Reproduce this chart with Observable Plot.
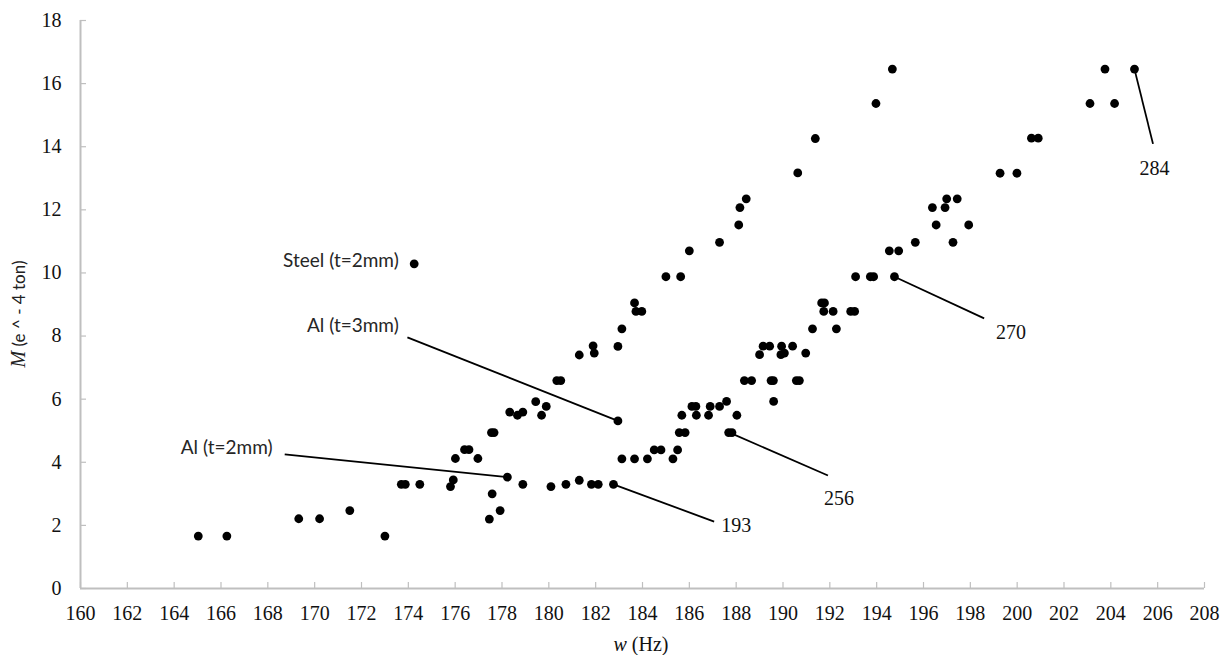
<!DOCTYPE html>
<html>
<head>
<meta charset="utf-8">
<script src="https://cdn.jsdelivr.net/npm/d3@7"></script>
<script src="https://cdn.jsdelivr.net/npm/@observablehq/plot@0.6"></script>
<style>
  html, body { margin: 0; padding: 0; background: #fff; }
  #chart { width: 1222px; height: 655px; }
  svg text.serifT, svg tspan.serifT { font-family: 'Liberation Serif' !important; }
  svg text.sansT, svg tspan.sansT { font-family: 'Lato' !important; }
</style>
</head>
<body>
<div id="chart"></div>
<script>
// ---- tick values ----
const xTicks = d3.range(160, 209, 2);
const yTicks = d3.range(0, 19, 2);

// ---- measured points [w (Hz), M (e^-4 ton)] ----
const lowerChain = [
  [165.03,1.66],[166.25,1.66],[169.32,2.21],[170.21,2.21],[171.50,2.47],[173.00,1.66],
  [177.46,2.20],[177.92,2.47],[177.58,3.00],[178.23,3.53],[178.89,3.30],[180.09,3.23],
  [180.73,3.30],[181.30,3.43],[181.82,3.30],[182.11,3.30],[182.76,3.30]
];
const upperChain = [
  [173.70,3.30],[173.87,3.30],[174.49,3.30],[175.80,3.23],[175.92,3.44],[176.01,4.12],
  [176.40,4.40],[176.59,4.40],[176.97,4.12],[177.55,4.94],[177.66,4.94],[178.33,5.59],
  [178.66,5.49],[178.89,5.59],[179.44,5.92],[179.69,5.49],[179.89,5.77],[180.34,6.59],
  [180.51,6.59],[181.30,7.40],[181.89,7.69],[181.94,7.46],[182.95,7.67],[183.12,8.23],
  [183.66,9.05],[183.72,8.78],[183.97,8.78],[185.00,9.88],[185.63,9.88],[186.00,10.70],
  [187.29,10.97],[188.11,11.52],[188.16,12.07],[188.43,12.35],[190.63,13.17],[191.38,14.26],
  [193.97,15.37],[194.67,16.46]
];
const rightChain = [
  [182.95,5.31],[183.12,4.11],[183.66,4.11],[184.21,4.11],[184.50,4.39],[184.79,4.39],
  [185.30,4.11],[185.50,4.39],[185.57,4.94],[185.82,4.94],[185.68,5.49],[186.11,5.77],
  [186.28,5.77],[186.30,5.49],[186.82,5.49],[186.89,5.77],[187.29,5.77],[187.59,5.93],
  [188.03,5.49],[187.68,4.94],[187.82,4.94],[188.35,6.59],[188.66,6.59],[189.00,7.41],
  [189.15,7.68],[189.43,7.68],[189.94,7.68],[190.41,7.68],[189.91,7.41],[190.06,7.46],
  [190.97,7.46],[189.49,6.59],[189.59,6.59],[190.57,6.59],[190.70,6.59],[189.60,5.93],
  [191.26,8.23],[192.28,8.23],[191.65,9.05],[191.77,9.05],[191.74,8.78],[192.14,8.78],
  [192.89,8.78],[193.06,8.78],[193.10,9.88],[193.73,9.88],[193.87,9.88],[194.76,9.88],
  [194.54,10.70],[194.94,10.70],[195.65,10.97],[197.26,10.97],[196.54,11.52],[197.93,11.52],
  [196.38,12.07],[196.92,12.07],[196.99,12.35],[197.44,12.35],[199.27,13.16],[199.99,13.16],
  [200.61,14.27],[200.90,14.27],[203.11,15.37],[204.16,15.37],[203.75,16.46],[205.01,16.46]
];
const steelPoint = [[174.25,10.29]];

// ---- annotations: label text, label anchor, leader line ----
const sansLabels = [
  {text: "Steel (t=2mm)", x: 173.59, y: 10.37},
  {text: "Al (t=3mm)",    x: 173.59, y: 8.33},
  {text: "Al (t=2mm)",    x: 168.20, y: 4.44}
];
const numberLabels = [
  {text: "193", x: 188.0,  y: 2.00},
  {text: "256", x: 192.39, y: 2.85},
  {text: "270", x: 199.74, y: 8.11},
  {text: "284", x: 205.86, y: 13.30}
];
const leaders = [
  {x1: 173.96, y1: 7.96, x2: 182.95, y2: 5.31},
  {x1: 168.72, y1: 4.25, x2: 178.23, y2: 3.53},
  {x1: 182.76, y1: 3.30, x2: 187.06, y2: 2.12},
  {x1: 187.72, y1: 4.94, x2: 191.92, y2: 3.58},
  {x1: 194.76, y1: 9.88, x2: 198.59, y2: 8.56},
  {x1: 205.01, y1: 16.46, x2: 205.80, y2: 14.09}
];

const W = 1222, H = 655, mL = 80, mR = 18, mT = 20, mB = 67;
const innerW = W - mL - mR, innerH = H - mT - mB;
const axisGrey = "#bfbfbf";
const dotOpts = {x: d => d[0], y: d => d[1], r: 4.4, fill: "#000", stroke: "none"};

const plot = Plot.plot({
  width: W, height: H,
  marginLeft: mL, marginRight: mR, marginTop: mT, marginBottom: mB,
  x: {domain: [160, 208], axis: null},
  y: {domain: [0, 18], axis: null},
  style: {background: "#fff", overflow: "visible"},
  marks: [
    // inward ticks
    Plot.ruleX(xTicks, {stroke: axisGrey, strokeWidth: 1.2, insetTop: innerH - 6}),
    Plot.ruleY(yTicks, {stroke: axisGrey, strokeWidth: 1.2, insetRight: innerW - 6}),
    // axis lines
    Plot.ruleY([0], {stroke: axisGrey, strokeWidth: 2}),
    Plot.ruleX([160], {stroke: axisGrey, strokeWidth: 2}),
    // tick labels, positioned by the x / y scales
    Plot.text(xTicks, {x: d => d, text: d => String(d), frameAnchor: "bottom",
      lineAnchor: "top", dy: 17, fontSize: 20, fontFamily: "Liberation Serif",
      fill: "#111", ariaLabel: "x tick labels"}),
    Plot.text(yTicks, {y: d => d, text: d => String(d), frameAnchor: "left",
      textAnchor: "end", dx: -19, fontSize: 20, fontFamily: "Liberation Serif",
      fill: "#111", ariaLabel: "y tick labels"}),
    // leader lines
    Plot.link(leaders, {x1: "x1", y1: "y1", x2: "x2", y2: "y2", stroke: "#000", strokeWidth: 1.8}),
    // points
    Plot.dot(lowerChain, dotOpts),
    Plot.dot(upperChain, dotOpts),
    Plot.dot(rightChain, dotOpts),
    Plot.dot(steelPoint, dotOpts),
    // annotation labels
    Plot.text(sansLabels, {x: "x", y: "y", text: "text", textAnchor: "end",
      fontFamily: "Lato", fontSize: 19, fill: "#262626", ariaLabel: "series labels"}),
    Plot.text(numberLabels, {x: "x", y: "y", text: "text", textAnchor: "middle",
      fontFamily: "Liberation Serif", fontSize: 20, fill: "#111", ariaLabel: "number labels"})
  ]
});

document.getElementById("chart").appendChild(plot);

const svg = d3.select(plot);
svg.selectAll("g[aria-label='x tick labels'] text, g[aria-label='y tick labels'] text, g[aria-label='number labels'] text")
  .classed("serifT", true)
  .attr("font-family", "Liberation Serif")
  .style("font-family", "Liberation Serif");

// axis titles with mixed styling
const xt = svg.append("text")
  .attr("x", 641).attr("y", 651)
  .attr("text-anchor", "middle")
  .attr("font-size", 20).attr("fill", "#111");
xt.append("tspan").attr("class", "serifT").attr("font-family", "Liberation Serif")
  .attr("font-style", "italic").text("w");
xt.append("tspan").attr("class", "serifT").attr("font-family", "Liberation Serif").text(" (Hz)");

const yt = svg.append("text")
  .attr("transform", "translate(25,314) rotate(-90)")
  .attr("text-anchor", "middle").attr("fill", "#222");
yt.append("tspan").attr("class", "serifT").attr("font-family", "Liberation Serif")
  .attr("font-style", "italic").attr("font-size", 20).text("M");
yt.append("tspan").attr("class", "sansT").attr("font-family", "Lato")
  .attr("font-size", 17).text(" (e ^ - 4 ton)");
</script>
</body>
</html>
